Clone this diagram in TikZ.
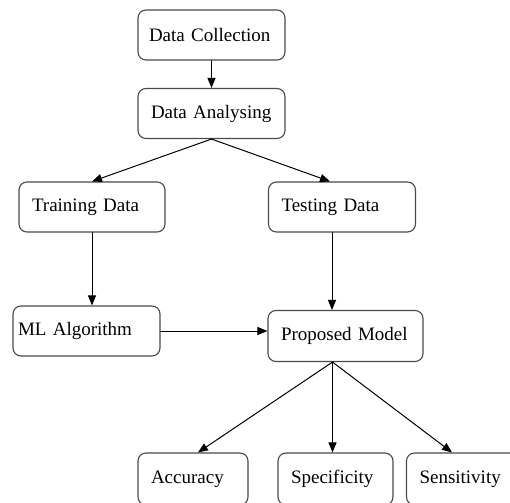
\documentclass[tikz,border=0pt]{standalone}
\usepackage{fontspec}
\setmainfont{Liberation Serif}
\usetikzlibrary{arrows.meta}
\definecolor{BoxGray}{HTML}{4A4A4A}

\begin{document}
\begin{tikzpicture}[x=1pt,y=-1pt,line cap=round,line join=round,
  box/.style={draw=BoxGray,line width=1.1pt,rounded corners=8pt,align=left,inner xsep=13pt,inner ysep=0pt,
    minimum height=50pt,text width=#1,font=\fontsize{19}{22}\selectfont},
  arr/.style={-{Triangle[length=10pt,width=8pt]},line width=1pt}]
  \clip (0,0) rectangle (510,502);
  % pipeline boxes
  \node[box=125pt,inner xsep=11pt] (coll) at (211.5,35) {Data Collection};
  \node[box=121pt] (ana) at (211.5,113.5) {Data Analysing};
  \node[box=120pt] (train) at (92,207) {Training Data};
  \node[box=121pt] (test) at (342,207) {Testing Data};
  \node[box=137pt,inner xsep=5pt] (ml) at (86.5,331) {ML Algorithm};
  \node[box=129pt,minimum height=51pt] (prop) at (345.5,336) {Proposed Model};
  % metrics, cut off by the lower edge
  \node[box=84pt,minimum height=52pt] (acc) at (193,479) {Accuracy};
  \node[box=89pt,minimum height=52pt] (spec) at (335.5,479) {Specificity};
  \node[box=85pt,minimum height=52pt] (sens) at (462,479) {Sensitivity};
  % arrows
  \draw[arr] (coll) -- (ana);
  \draw[arr] (ana.south) -- (train.north);
  \draw[arr] (ana.south) -- ([xshift=-12pt]test.north);
  \draw[arr] (train.south) -- (train.south |- ml.north);
  \draw[arr] ([xshift=-10pt]test.south) -- ([xshift=-10pt]test.south |- prop.north);
  \draw[arr] (ml.east) -- (ml.east -| prop.west);
  \coordinate (fork) at ([xshift=-13pt]prop.south);
  \draw[arr] (fork) -- ([xshift=5pt]acc.north);
  \draw[arr] (fork) -- (fork |- spec.north);
  \draw[arr] (fork) -- ([xshift=-10pt]sens.north);
\end{tikzpicture}
\end{document}
